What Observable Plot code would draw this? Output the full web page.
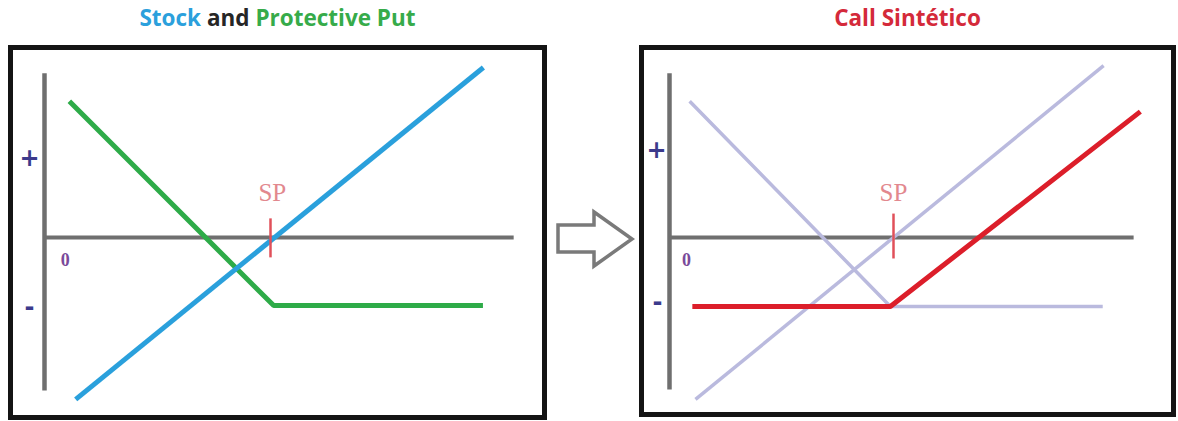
<!DOCTYPE html>
<html>
<head>
<meta charset="utf-8">
<script src="https://cdn.jsdelivr.net/npm/d3@7"></script>
<script src="https://cdn.jsdelivr.net/npm/@observablehq/plot@0.6"></script>
<style>
  html, body { margin: 0; padding: 0; background: #fff; }
  #root { position: relative; width: 1178px; height: 421px; overflow: hidden; background: #fff; }
  .title { position: absolute; top: 4px; text-align: center; font-family: "Open Sans", Lato, sans-serif; font-weight: 700; font-size: 22.5px; line-height: 28px; letter-spacing: 0px; }
  .panel { position: absolute; border: 5px solid #141414; box-sizing: border-box; background: #fff; }
  .panel svg { display: block; }
  #arrow { position: absolute; left: 540px; top: 200px; }
</style>
</head>
<body>
<div id="root">
  <div class="title" style="left:8px;width:539px;"><span style="color:#2ba0dc">Stock</span> <span style="color:#262626">and</span> <span style="color:#36ab4a">Protective Put</span></div>
  <div class="title" style="left:639px;width:537px;color:#d42a3a">Call Sintético</div>
  <div class="panel" id="left" style="left:8px;top:45px;width:539px;height:375px;"></div>
  <div class="panel" id="right" style="left:639px;top:45px;width:537px;height:372px;"></div>
  <svg id="arrow" width="110" height="80"></svg>
</div>
<script>
// ---- data (price units on x, payoff units on y) ----
const strike = 5;
const labels = { strike: "SP", plus: "+", minus: "-", zero: "0" };

// Left panel: Stock and Protective Put
const leftStock = [{x: 0.69, y: -4.40}, {x: 9.71, y: 4.62}];
const leftPut   = [{x: 0.55, y: 3.70}, {x: 5.07, y: -1.85}, {x: 9.70, y: -1.85}];
const leftXAxis = [{x: 0, y: 0}, {x: 10.38, y: 0}];
const leftYAxis = [{x: 0, y: -4.16}, {x: 0, y: 4.46}];
const leftTick  = [{x: strike, y: -0.54}, {x: strike, y: 0.52}];
const leftMarks = [
  {x: -0.33, y: 2.15, t: labels.plus},
  {x: -0.33, y: -1.90, t: labels.minus}
];
const leftZero = [{x: 0.46, y: -0.62, t: labels.zero}];
const leftSP   = [{x: 5.04, y: 1.22, t: labels.strike}];

// Right panel: Call Sintético
const rightStock = [{x: 0.58, y: -4.40}, {x: 9.69, y: 4.67}];
const rightPut   = [{x: 0.45, y: 3.70}, {x: 4.93, y: -1.875}, {x: 9.67, y: -1.875}];
const syntheticCall = [{x: 0.51, y: -1.875}, {x: 4.93, y: -1.875}, {x: 10.51, y: 3.42}];
const rightXAxis = [{x: 0, y: 0}, {x: 10.36, y: 0}];
const rightYAxis = [{x: 0, y: -4.13}, {x: 0, y: 4.46}];
const rightTick  = [{x: strike, y: -0.57}, {x: strike, y: 0.65}];
const rightMarks = [
  {x: -0.29, y: 2.36, t: labels.plus},
  {x: -0.27, y: -1.77, t: labels.minus}
];
const rightZero = [{x: 0.38, y: -0.62, t: labels.zero}];
const rightSP   = [{x: 5.0, y: 1.22, t: labels.strike}];

const C = {
  axis: "#6f6f6f", blue: "#2aa0dc", green: "#2eab48", tick: "#e0505a",
  sp: "#e2888e", sign: "#3c3a8c", zero: "#7a4a9a", lav: "#babade", red: "#dc1e2a"
};

function panel({width, height, ml, mr, mt, mb, xAxis, yAxis, tick, signs, zero, sp, lines}) {
  return Plot.plot({
    width, height,
    marginLeft: ml, marginRight: mr, marginTop: mt, marginBottom: mb,
    x: {domain: [0, 10], axis: null},
    y: {domain: [-4, 4], axis: null},
    style: {background: "transparent", overflow: "visible"},
    marks: [
      Plot.line(yAxis, {x: "x", y: "y", stroke: C.axis, strokeWidth: 4.5, strokeLinecap: "butt"}),
      Plot.line(xAxis, {x: "x", y: "y", stroke: C.axis, strokeWidth: 4, strokeLinecap: "butt"}),
      ...lines.map(l => Plot.line(l.data, {x: "x", y: "y", stroke: l.color, strokeWidth: l.w, strokeLinecap: "butt", strokeLinejoin: "miter"})),
      Plot.line(tick, {x: "x", y: "y", stroke: C.tick, strokeWidth: 2.5, strokeLinecap: "butt"}),
      Plot.text(sp, {x: "x", y: "y", text: "t", fill: C.sp, fontSize: 25, fontFamily: "Liberation Serif, serif"}),
      Plot.text(zero, {x: "x", y: "y", text: "t", fill: C.zero, fontSize: 18, fontWeight: "bold", fontFamily: "Liberation Serif, serif"}),
      Plot.text(signs, {x: "x", y: "y", text: "t", fill: C.sign, fontSize: 24, fontWeight: "bold", fontFamily: "DejaVu Sans, sans-serif"})
    ]
  });
}

document.getElementById("left").appendChild(panel({
  width: 529, height: 365, ml: 31, mr: 46, mt: 39.8, mb: 30.8,
  xAxis: leftXAxis, yAxis: leftYAxis, tick: leftTick, signs: leftMarks, zero: leftZero, sp: leftSP,
  lines: [
    {data: leftPut, color: C.green, w: 5},
    {data: leftStock, color: C.blue, w: 5}
  ]
}));

document.getElementById("right").appendChild(panel({
  width: 527, height: 362, ml: 25, mr: 54, mt: 39.8, mb: 27.8,
  xAxis: rightXAxis, yAxis: rightYAxis, tick: rightTick, signs: rightMarks, zero: rightZero, sp: rightSP,
  lines: [
    {data: rightPut, color: C.lav, w: 3.5},
    {data: rightStock, color: C.lav, w: 3.5},
    {data: syntheticCall, color: C.red, w: 5}
  ]
}));

// Arrow glyph between panels
const arrowPts = [[18,25],[54,25],[54,12],[92,39],[54,66],[54,52],[18,52]];
d3.select("#arrow").append("polygon")
  .attr("points", arrowPts.map(p => p.join(",")).join(" "))
  .attr("fill", "#fff").attr("stroke", "#7a7a7a").attr("stroke-width", 3.5)
  .attr("stroke-linejoin", "miter");
</script>
</body>
</html>
